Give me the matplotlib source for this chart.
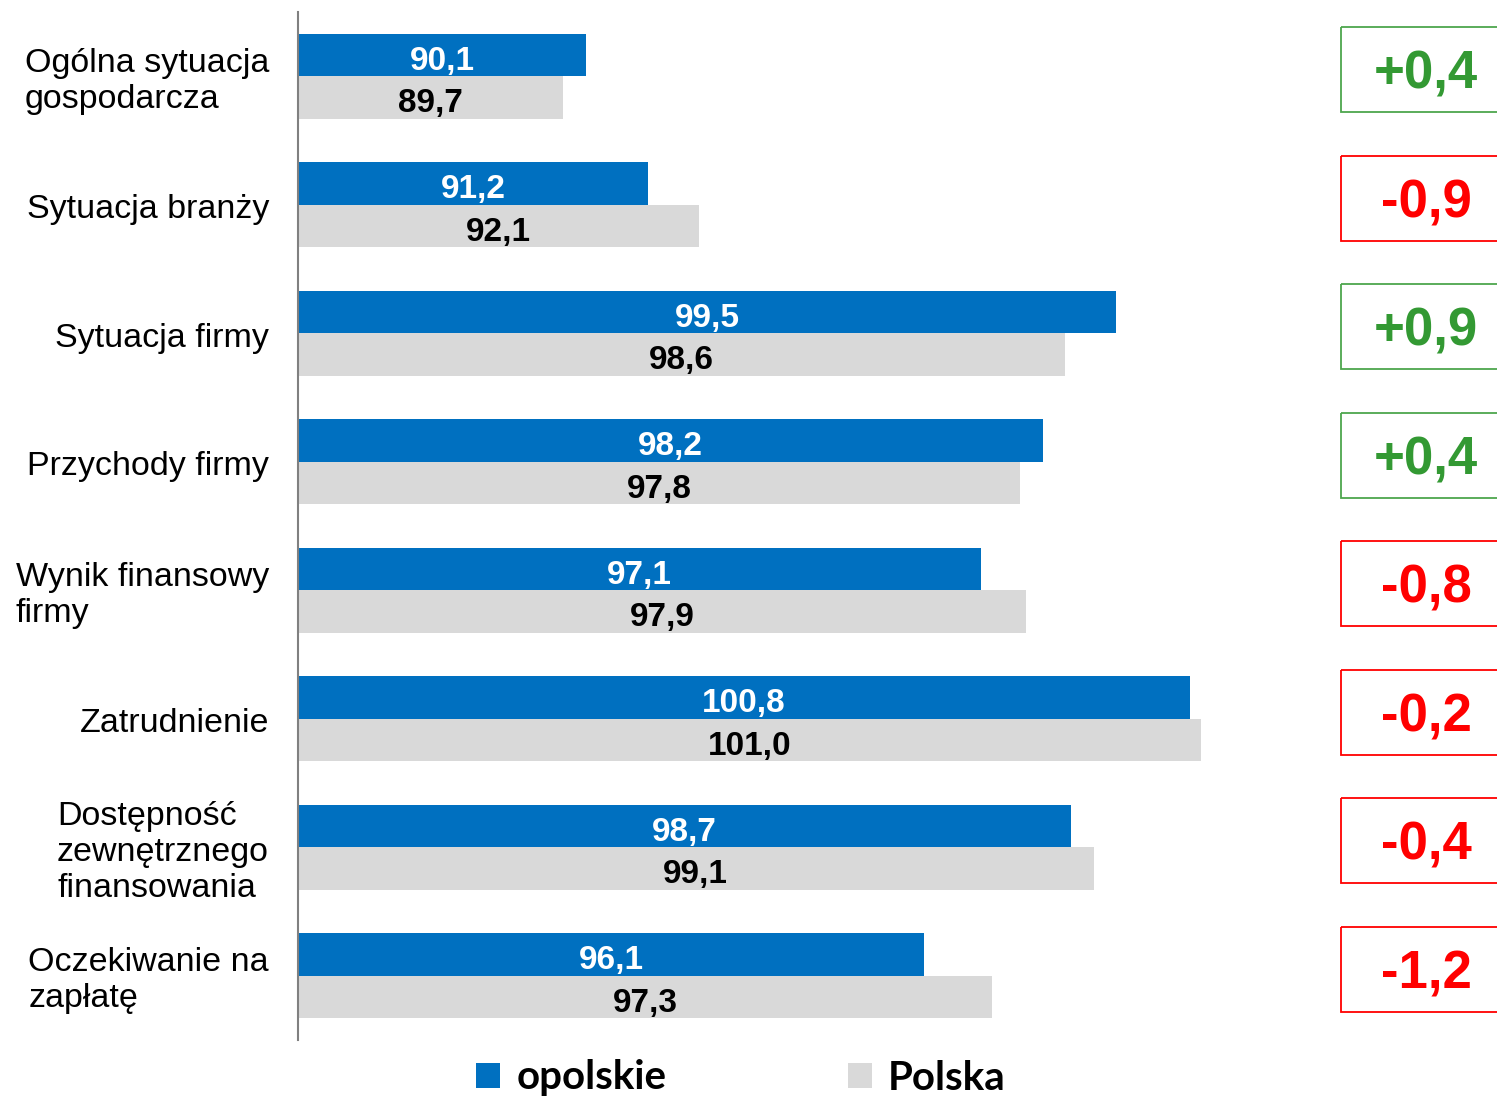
import matplotlib as mpl
import matplotlib.pyplot as plt
import numpy as np
from matplotlib.patches import Rectangle
from matplotlib.transforms import blended_transform_factory, offset_copy

mpl.rcParams["font.family"] = ["Liberation Sans", "DejaVu Sans"]

# Data
categories = [
    "Ogólna sytuacja\ngospodarcza",
    "Sytuacja branży",
    "Sytuacja firmy",
    "Przychody firmy",
    "Wynik finansowy\nfirmy",
    "Zatrudnienie",
    "Dostępność\nzewnętrznego\nfinansowania",
    "Oczekiwanie na\nzapłatę",
]
opolskie = [90.1, 91.2, 99.5, 98.2, 97.1, 100.8, 98.7, 96.1]
polska = [89.7, 92.1, 98.6, 97.8, 97.9, 101.0, 99.1, 97.3]
series_names = ["opolskie", "Polska"]

BLUE = "#0070C0"
GREY = "#D9D9D9"
X0 = 85.0


def fmt(v, sign=False):
    s = f"{v:+.1f}" if sign else f"{v:.1f}"
    return s.replace(".", ",")


fig = plt.figure(figsize=(14.97, 10.97), dpi=100)
W, H = 1497, 1097
ax = fig.add_axes([298 / W, 1 - 1040 / H, (1330 - 298) / W, (1040 - 12) / H])

y = np.arange(len(categories))
h = 0.33
a = np.array(opolskie)
b = np.array(polska)
bars_a = ax.barh(y - h / 2, a - X0, left=X0, height=h, color=BLUE, label=series_names[0])
bars_b = ax.barh(y + h / 2, b - X0, left=X0, height=h, color=GREY, label=series_names[1])

ax.set_xlim(X0, 103.29)
ax.set_ylim(len(categories) - 0.5, -0.5)
ax.set_xticks([])
ax.set_yticks([])
for s in ["top", "right", "bottom"]:
    ax.spines[s].set_visible(False)
ax.spines["left"].set_color("#808080")
ax.spines["left"].set_linewidth(1.5)

# value labels
for i in range(len(categories)):
    ax.text((X0 + a[i]) / 2, i - h / 2 + 0.05, fmt(a[i]), ha="center", va="center",
            color="white", fontsize=24, fontweight="bold")
    ax.text((X0 + b[i]) / 2, i + h / 2 + 0.05, fmt(b[i]), ha="center", va="center",
            color="black", fontsize=24, fontweight="bold")

# category labels
lab_tr = offset_copy(ax.transData, fig=fig, x=-29, y=-5, units="dots")
for i, c in enumerate(categories):
    ax.text(X0, i, c, transform=lab_tr, ha="right", va="center",
            multialignment="left", fontsize=24.5, linespacing=1.2)

# difference boxes on the right
box_tr = blended_transform_factory(fig.transFigure, ax.transData)
box_h = 0.66
for i in range(len(categories)):
    d = round(a[i] - b[i], 1)
    if d >= 0:
        edge, txt = "#4DA64D", "#339933"
    else:
        edge, txt = "#FF0000", "#FF0000"
    yc = i - 0.05
    rect = Rectangle((1341 / W, yc - box_h / 2), 175 / W, box_h, transform=box_tr,
                     fill=False, edgecolor=edge, linewidth=1.3, clip_on=False)
    ax.add_patch(rect)
    ax.text(1426 / W, yc + 0.04, fmt(d, sign=True), transform=box_tr, ha="center",
            va="center", color=txt, fontsize=38, fontweight="bold")

# legend
fig.legend(handles=[bars_a, bars_b], labels=series_names, loc="center",
           bbox_to_anchor=(741 / W, 1 - 1078 / H), ncol=2, frameon=False,
           prop={"family": ["Lato", "DejaVu Sans"], "weight": "bold", "size": 29},
           handlelength=0.6, handleheight=0.6, handletextpad=0.4,
           columnspacing=4.5)

fig.savefig("out.png", dpi=100)
